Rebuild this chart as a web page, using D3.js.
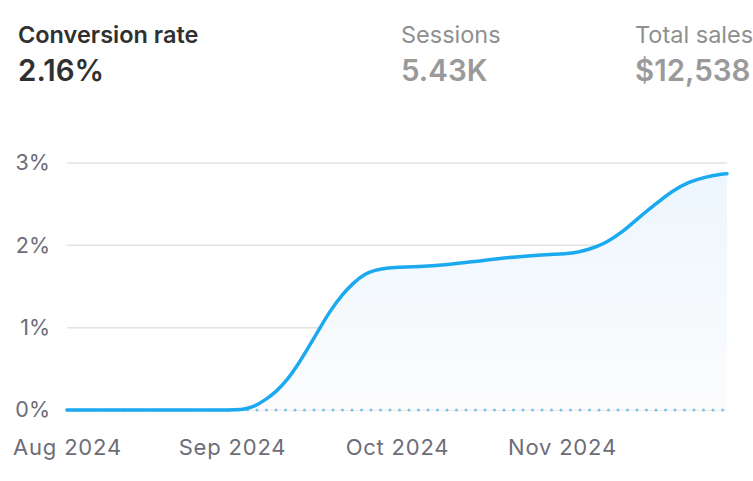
<!DOCTYPE html>
<html>
<head>
<meta charset="utf-8">
<script src="https://cdn.jsdelivr.net/npm/d3@7"></script>
<style>
  body { margin: 0; background: #fff; overflow: hidden; }
  svg { display: block; font-family: Inter, "Noto Sans", sans-serif; }
</style>
</head>
<body>
<div id="chart"></div>
<script>
const width = 753;
const height = 481;

// header metrics
const metricLabels = ["Conversion rate", "Sessions", "Total sales"];
const metricValues = ["2.16%", "5.43K", "$12,538"];

// series
const dates = ["2024-08-01", "2024-08-15", "2024-09-01", "2024-09-03", "2024-09-05",
  "2024-09-07", "2024-09-09", "2024-09-11", "2024-09-13", "2024-09-15", "2024-09-17",
  "2024-09-19", "2024-09-21", "2024-09-23", "2024-09-25", "2024-09-27", "2024-09-29",
  "2024-10-01", "2024-10-05", "2024-10-10", "2024-10-15", "2024-10-20", "2024-10-25",
  "2024-10-30", "2024-11-03", "2024-11-06", "2024-11-09", "2024-11-12", "2024-11-15",
  "2024-11-18", "2024-11-21", "2024-11-24", "2024-11-27", "2024-11-30", "2024-12-01"];
const rates = [0, 0, 0, 0.005, 0.04,
  0.12, 0.22, 0.36, 0.55, 0.77, 1.00,
  1.22, 1.40, 1.54, 1.65, 1.70, 1.725,
  1.735, 1.74, 1.76, 1.80, 1.84, 1.87,
  1.89, 1.90, 1.95, 2.03, 2.16, 2.34,
  2.50, 2.66, 2.77, 2.83, 2.865, 2.87];
const previousRates = dates.map(() => 0);

const monthTicks = ["2024-08-01", "2024-09-01", "2024-10-01", "2024-11-01"];
const yTicks = [0, 1, 2, 3];

const parse = d3.utcParse("%Y-%m-%d");
const data = dates.map((d, i) => ({ date: parse(d), value: rates[i], prev: previousRates[i] }));

const svg = d3.select("#chart").append("svg")
    .attr("width", width)
    .attr("height", height);

// header
const cols = [18, 401, 635];
metricLabels.forEach((label, i) => {
    svg.append("text")
        .attr("x", cols[i]).attr("y", 43)
        .style("font-size", "23.5px")
        .style("font-weight", i === 0 ? 600 : 400)
        .style("fill", i === 0 ? "#303030" : "#8f8f8f")
        .text(label);
    svg.append("text")
        .attr("x", cols[i]).attr("y", 81)
        .style("font-size", "29.5px")
        .style("font-weight", 600)
        .style("fill", i === 0 ? "#303030" : "#9a9a9a")
        .text(metricValues[i]);
});

// scales: months take equal width
const monthEdges = ["2024-08-01", "2024-09-01", "2024-10-01", "2024-11-01", "2024-12-01"].map(parse);
const x = d3.scaleUtc()
    .domain(monthEdges)
    .range(d3.range(5).map(i => 67 + i * 165));

const y = d3.scaleLinear()
    .domain([0, 3])
    .range([410, 163]);

// gradient
const defs = svg.append("defs");
const grad = defs.append("linearGradient")
    .attr("id", "areaGrad")
    .attr("gradientUnits", "userSpaceOnUse")
    .attr("x1", 0).attr("x2", 0)
    .attr("y1", y(3)).attr("y2", y(0));
grad.append("stop").attr("offset", "0%").attr("stop-color", "#ecf6fd");
grad.append("stop").attr("offset", "100%").attr("stop-color", "#fcfcfd");

// grid
svg.append("g")
    .selectAll("line")
    .data(yTicks)
    .join("line")
    .attr("x1", x.range()[0]).attr("x2", x.range()[4])
    .attr("y1", d => y(d)).attr("y2", d => y(d))
    .attr("stroke", "#e3e3e3")
    .attr("stroke-width", 1.5);

// y axis labels
const yAxis = svg.append("g")
    .attr("transform", "translate(50,0)")
    .call(d3.axisLeft(y).tickValues(yTicks).tickFormat(d => d + "%").tickSize(0).tickPadding(0));
yAxis.select(".domain").remove();
yAxis.selectAll("text")
    .style("font-family", "Inter, sans-serif")
    .style("font-size", "21.5px")
    .style("fill", "#6d6d78");

// x axis labels
const xAxis = svg.append("g")
    .attr("transform", "translate(0,455)")
    .call(d3.axisBottom(x).tickValues(monthTicks.map(parse))
        .tickFormat(d3.utcFormat("%b %Y")).tickSize(0).tickPadding(0));
xAxis.select(".domain").remove();
xAxis.selectAll("text")
    .attr("dy", 0)
    .style("font-family", "Inter, sans-serif")
    .style("font-size", "22px")
    .style("letter-spacing", "0.8px")
    .style("fill", "#6d6d78");

// area
const area = d3.area()
    .x(d => x(d.date))
    .y0(y(0))
    .y1(d => y(d.value))
    .curve(d3.curveBasis);

svg.append("path")
    .datum(data)
    .attr("d", area)
    .attr("fill", "url(#areaGrad)");

// previous period (dotted)
svg.append("path")
    .datum(data)
    .attr("d", d3.line().x(d => x(d.date)).y(d => y(d.prev)))
    .attr("fill", "none")
    .attr("stroke", "#7cc2e6")
    .attr("stroke-width", 3)
    .attr("stroke-linecap", "round")
    .attr("stroke-dasharray", "0 9.5");

// main line
svg.append("path")
    .datum(data)
    .attr("d", d3.line().x(d => x(d.date)).y(d => y(d.value)).curve(d3.curveBasis))
    .attr("fill", "none")
    .attr("stroke", "#1ba9ef")
    .attr("stroke-width", 3.5)
    .attr("stroke-linecap", "round");
</script>
</body>
</html>
